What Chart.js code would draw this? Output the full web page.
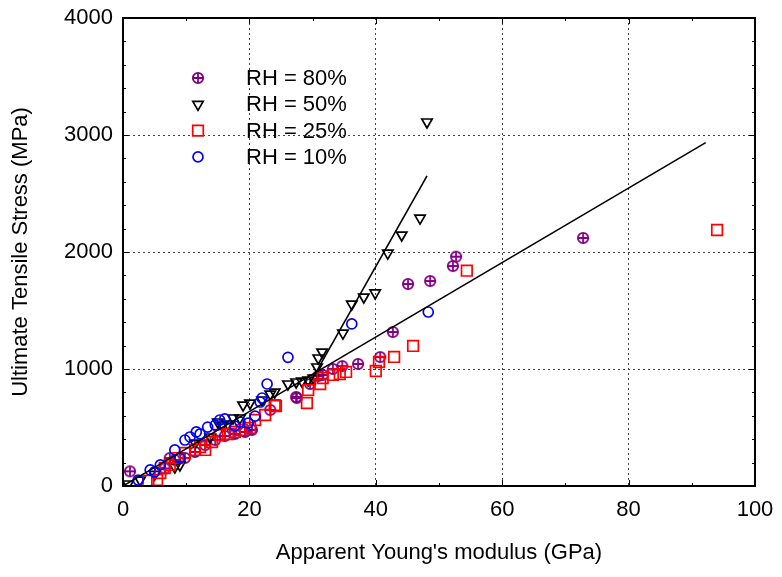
<!DOCTYPE html>
<html>
<head>
<meta charset="utf-8">
<script src="https://cdn.jsdelivr.net/npm/chart.js@4"></script>
<style>html,body{margin:0;padding:0;background:#fff}</style>
</head>
<body>
<canvas id="myChart" width="782" height="577"></canvas>
<script>
// Apparent Young's modulus (GPa) / ultimate tensile stress (MPa), per humidity
let rh80E = [1.1, 6.6, 7.4, 8.2, 9.8, 11.4, 13, 14.6, 16.1, 17.7, 19.3, 20.4, 23.3, 27.4, 27.5, 29.6, 30.9, 31.6, 33.2, 34.7, 37.2, 40.7, 42.7, 45.1, 48.6, 52.2, 52.7, 72.8]
let rh80S = [125, 150, 239, 222, 240, 291, 350, 393, 427, 444, 462, 479, 650, 761, 752, 872, 940, 949, 1000, 1025, 1043, 1102, 1316, 1726, 1752, 1880, 1960, 2120]

let rh50E = [0.8, 2.7, 5, 8.2, 9, 11.4, 13.8, 15, 15.7, 16.6, 17.4, 18.5, 19, 20.1, 22, 23.3, 24, 26.1, 27.4, 28.3, 29.3, 30.1, 30.7, 30.9, 31.5, 34.8, 36.2, 38.1, 39.9, 41.9, 44.1, 47, 48.1]
let rh50S = [17, 51, 100, 162, 180, 367, 419, 547, 521, 530, 581, 581, 692, 709, 735, 786, 803, 872, 889, 897, 905, 923, 1017, 1094, 1145, 1307, 1555, 1615, 1650, 1990, 2145, 2290, 3111]

let rh25E = [4, 5.4, 5.9, 6.6, 7.4, 8.7, 9.8, 11.4, 12.2, 13, 14.1, 15.3, 16.6, 17.7, 18.8, 20.1, 20.9, 22.5, 24, 24.2, 29.1, 29.3, 31.2, 31.6, 33.2, 34.3, 35.3, 40, 40.5, 42.9, 45.9, 54.4, 94]
let rh25S = [45, 51, 111, 154, 180, 239, 282, 308, 333, 308, 376, 436, 444, 462, 479, 496, 564, 607, 692, 684, 709, 820, 872, 923, 949, 957, 975, 983, 1060, 1103, 1197, 1840, 2188]

let rh10E = [2.4, 4.3, 5, 5.9, 8.2, 9, 9.8, 10.6, 11.6, 12.2, 13.4, 14.6, 15.3, 16.1, 17.7, 18.5, 19.8, 20.9, 21.7, 22, 22.8, 26.1, 36.2, 48.3]
let rh10S = [51, 137, 120, 180, 308, 239, 393, 419, 462, 445, 504, 521, 564, 573, 513, 547, 538, 598, 718, 752, 872, 1100, 1385, 1487]

// fitted lines: all data, and RH = 50% above ~30 GPa
let fitAllE = [0.3, 92.2]
let fitAllS = [10, 2935]
let fit50E = [30.2, 48.1]
let fit50S = [940, 2650]

let xTicks = [0, 20, 40, 60, 80, 100]
let yTicks = [0, 1000, 2000, 3000, 4000]

const pts = (xs, ys) => xs.map((x, i) => ({x: x, y: ys[i]}))

// circle with a plus inside
function circlePlus(color) {
    let c = document.createElement('canvas')
    c.width = 14; c.height = 14
    let g = c.getContext('2d')
    g.strokeStyle = color
    g.lineWidth = 1.8
    g.beginPath(); g.arc(7, 7, 5.2, 0, Math.PI * 2); g.stroke()
    g.beginPath(); g.moveTo(2, 7); g.lineTo(12, 7); g.moveTo(7, 2); g.lineTo(7, 12); g.stroke()
    return c
}
const purple = '#800080'
const plusMark = circlePlus(purple)

const FONT = {family: 'Liberation Sans, Arial, sans-serif', size: 22}

let legendItems = [
    {text: 'RH = 80%', pointStyle: plusMark, color: purple, rotation: 0, radius: 5},
    {text: 'RH = 50%', pointStyle: 'triangle', color: '#000', rotation: 180, radius: 6},
    {text: 'RH = 25%', pointStyle: 'rect', color: '#ff0000', rotation: 0, radius: 7.5},
    {text: 'RH = 10%', pointStyle: 'circle', color: '#0000ff', rotation: 0, radius: 5},
]

const frame = {
    id: 'frame',
    afterDraw(chart) {
        const {ctx, chartArea: a, scales: {x, y}} = chart
        ctx.save()
        ctx.strokeStyle = '#000'
        ctx.lineWidth = 1
        ctx.beginPath()
        for (let v = 0; v <= 100; v += 10) {
            let px = Math.round(x.getPixelForValue(v)) + 0.5
            let len = v % 20 === 0 ? 6 : 3
            ctx.moveTo(px, a.bottom); ctx.lineTo(px, a.bottom - len)
            ctx.moveTo(px, a.top); ctx.lineTo(px, a.top + len)
        }
        for (let v = 0; v <= 4000; v += 200) {
            let py = Math.round(y.getPixelForValue(v)) + 0.5
            let len = v % 1000 === 0 ? 6 : 3
            ctx.moveTo(a.left, py); ctx.lineTo(a.left + len, py)
            ctx.moveTo(a.right, py); ctx.lineTo(a.right - len, py)
        }
        ctx.stroke()
        ctx.lineWidth = 2
        ctx.strokeRect(a.left, a.top, a.right - a.left, a.bottom - a.top)

        // legend inside the plot
        ctx.font = '22px Liberation Sans, Arial, sans-serif'
        ctx.textBaseline = 'middle'
        ctx.textAlign = 'left'
        legendItems.forEach((it, i) => {
            let yy = 78 + i * 26.3
            ctx.strokeStyle = it.color
            ctx.fillStyle = 'rgba(0,0,0,0)'
            ctx.lineWidth = 1.7
            Chart.helpers.drawPoint(ctx, {pointStyle: it.pointStyle, radius: it.radius, rotation: it.rotation, borderWidth: 1.7}, 198, yy)
            ctx.fillStyle = '#000'
            ctx.fillText(it.text, 246, yy + 1)
        })
        ctx.restore()
    }
}

const scatterSet = (label, data, style, color, radius, rotation) => ({
    label: label,
    data: data,
    showLine: false,
    pointStyle: style,
    pointRadius: radius,
    pointHoverRadius: radius,
    pointRotation: rotation,
    pointBorderWidth: 1.7,
    borderColor: color,
    backgroundColor: 'rgba(0,0,0,0)',
    pointBackgroundColor: 'rgba(0,0,0,0)'
})

const lineSet = (data) => ({
    data: data,
    showLine: true,
    pointRadius: 0,
    borderColor: '#000',
    borderWidth: 1.6,
    fill: false
})

var ctx = document.getElementById('myChart').getContext('2d')
var chart = new Chart(ctx, {
    type: 'scatter',
    data: {
        datasets: [
            lineSet(pts(fitAllE, fitAllS)),
            lineSet(pts(fit50E, fit50S)),
            scatterSet('RH = 10%', pts(rh10E, rh10S), 'circle', '#0000ff', 5, 0),
            scatterSet('RH = 25%', pts(rh25E, rh25S), 'rect', '#ff0000', 7.5, 0),
            scatterSet('RH = 50%', pts(rh50E, rh50S), 'triangle', '#000000', 6, 180),
            scatterSet('RH = 80%', pts(rh80E, rh80S), plusMark, purple, 5, 0),
        ]
    },
    options: {
        responsive: false,
        animation: false,
        layout: {padding: {top: 18, right: 27, left: 0, bottom: 0}},
        plugins: {legend: {display: false}, tooltip: {enabled: false}},
        scales: {
            x: {
                type: 'linear',
                min: 0, max: 100,
                afterFit: s => { s.height = 91; s.paddingLeft = 0; s.paddingRight = 0 },
                afterBuildTicks: s => { s.ticks = xTicks.map(v => ({value: v})) },
                ticks: {font: FONT, color: '#000', padding: 11, maxRotation: 0, callback: v => String(v)},
                grid: {color: '#444', lineWidth: 1, drawTicks: false},
                border: {display: false, dash: [2, 3]},
                title: {display: true, text: "Apparent Young's modulus (GPa)", font: FONT, color: '#000', padding: {top: 0, bottom: 11}}
            },
            y: {
                type: 'linear',
                min: 0, max: 4000,
                afterFit: s => { s.width = 123; s.paddingTop = 0; s.paddingBottom = 0 },
                afterBuildTicks: s => { s.ticks = yTicks.map(v => ({value: v})) },
                ticks: {font: FONT, color: '#000', padding: 10, callback: v => String(v)},
                grid: {color: '#444', lineWidth: 1, drawTicks: false},
                border: {display: false, dash: [2, 3]},
                title: {display: true, text: 'Ultimate Tensile Stress (MPa)', font: FONT, color: '#000', padding: {top: 8, bottom: 0}}
            }
        }
    },
    plugins: [frame]
})
</script>
</body>
</html>
